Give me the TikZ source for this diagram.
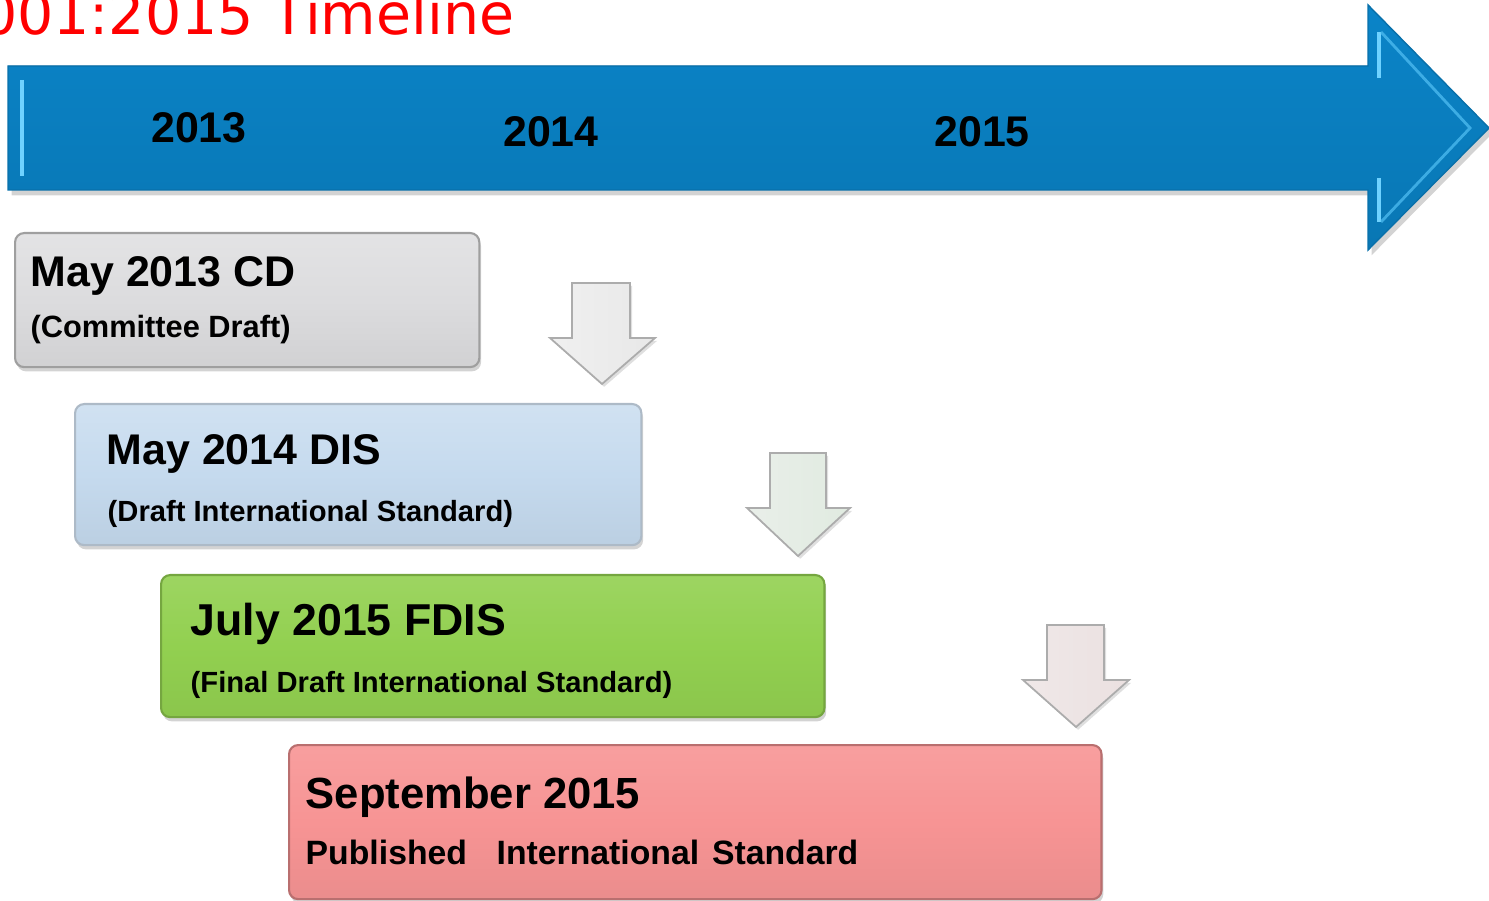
\documentclass[tikz,border=0pt]{standalone}
\usepackage{fontspec}
\setmainfont{Liberation Sans}
\newfontfamily\titlefont{DejaVu Sans}
\usetikzlibrary{shadows}
\definecolor{barmid}{HTML}{1298DE}
\definecolor{baredge}{HTML}{0A84C8}
\definecolor{barlight}{HTML}{6FD2FF}
\definecolor{cdgray}{HTML}{DCDCDE}
\definecolor{disblue}{HTML}{C5DAEE}
\definecolor{fdisgreen}{HTML}{92D050}
\definecolor{ispink}{HTML}{F79494}
\begin{document}
\begin{tikzpicture}[x=0.01cm,y=-0.01cm]
        \tikzstyle{stage} = [rectangle, rounded corners=2.6pt, anchor=north west, inner sep=0pt, line width=.6pt, drop shadow={opacity=.35, shadow xshift=.5pt, shadow yshift=-1.2pt}]
        \tikzstyle{headtext} = [anchor=base west, inner sep=0pt, text=black, font=\bfseries\fontsize{12.2pt}{14pt}\selectfont]
        \tikzstyle{subtext} = [anchor=base west, inner sep=0pt, text=black, font=\bfseries\fontsize{8.4pt}{10pt}\selectfont]
        \tikzstyle{yeartext} = [inner sep=0pt, text=black, font=\bfseries\fontsize{12.2pt}{14pt}\selectfont]
        \tikzstyle{dnarrow} = [line width=.5pt, line join=miter, drop shadow={opacity=.25, shadow xshift=.6pt, shadow yshift=-.8pt}]
        \clip (0,0) rectangle (1489,901);
        \node[anchor=base east, inner sep=0pt, text=red, font=\titlefont\fontsize{16.2pt}{19pt}\selectfont] (title) at (515,35) {001:2015 Timeline};
        % big timeline arrow
        \filldraw[draw=baredge!85!black, line width=.4pt, top color=baredge, middle color=barmid, bottom color=baredge!90!black, drop shadow={opacity=.35, shadow xshift=1pt, shadow yshift=-1.5pt}]
            (8,66) -- (1368,66) -- (1368,5) -- (1489,128) -- (1368,250) -- (1368,190) -- (8,190) -- cycle;
        \draw[barlight, line width=1.4pt] (22,80) -- (22,176);
        \draw[barlight, line width=1.4pt] (1379,32) -- (1379,78);
        \draw[barlight, line width=1.4pt] (1379,178) -- (1379,222);
        \draw[barlight!70!barmid, line width=.8pt, opacity=.7] (1381,32) -- (1470,128) -- (1381,222);
        \node[yeartext] (y2013) at (199,128) {2013};
        \node[yeartext] (y2014) at (551,132) {2014};
        \node[yeartext] (y2015) at (982,132) {2015};
        % stage boxes
        \node[stage, draw=gray!75, top color=cdgray!80!white, bottom color=cdgray!95!black, middle color=cdgray, minimum width=4.64cm, minimum height=1.34cm] (cd) at (14,232) {};
        \node[stage, draw=disblue!65!gray, top color=disblue!80!white, bottom color=disblue!95!black, middle color=disblue, minimum width=5.66cm, minimum height=1.41cm] (dis) at (74,403) {};
        \node[stage, draw=fdisgreen!80!black, top color=fdisgreen!90!white, bottom color=fdisgreen!95!black, middle color=fdisgreen, minimum width=6.63cm, minimum height=1.42cm] (fdis) at (160,574) {};
        \node[stage, draw=ispink!75!black, top color=ispink!90!white, bottom color=ispink!95!black, middle color=ispink, minimum width=8.12cm, minimum height=1.54cm] (is) at (288,744) {};
        \node[headtext] (cdhead) at (30,287) {May 2013 CD};
        \node[subtext, font=\bfseries\fontsize{8.75pt}{10pt}\selectfont] (cdsub) at (30,338) {(Committee Draft)};
        \node[headtext] (dishead) at (106,465) {May 2014 DIS};
        \node[subtext, font=\bfseries\fontsize{8.3pt}{10pt}\selectfont] (dissub) at (107,522) {(Draft International Standard)};
        \node[headtext, font=\bfseries\fontsize{12.7pt}{15pt}\selectfont] (fdishead) at (190,635) {July 2015 FDIS};
        \node[subtext, font=\bfseries\fontsize{8.3pt}{10pt}\selectfont] (fdissub) at (190,692) {(Final Draft International Standard)};
        \node[headtext, font=\bfseries\fontsize{12.4pt}{14pt}\selectfont] (ishead) at (305,808) {September 2015};
        \node[subtext, font=\bfseries\fontsize{9.6pt}{11pt}\selectfont] (issub) at (305,864) {Published\hspace{0.6em} International\hspace{0.1em} Standard};
        % down arrows between the stages
        \filldraw[dnarrow, draw=gray!65, left color=gray!12, middle color=white, right color=gray!18]
            (572,283) -- (630,283) -- (630,338) -- (655,338) -- (602,384) -- (550,338) -- (572,338) -- cycle;
        \filldraw[dnarrow, draw=gray!65, left color=green!15!gray!15, middle color=white, right color=green!20!gray!20]
            (770,453) -- (826,453) -- (826,508) -- (850,508) -- (798,556) -- (747,508) -- (770,508) -- cycle;
        \filldraw[dnarrow, draw=gray!65, left color=red!20!gray!15, middle color=white, right color=red!20!gray!20]
            (1047,625) -- (1104,625) -- (1104,680) -- (1129,680) -- (1076,727) -- (1023,680) -- (1047,680) -- cycle;
    \end{tikzpicture}
\end{document}
